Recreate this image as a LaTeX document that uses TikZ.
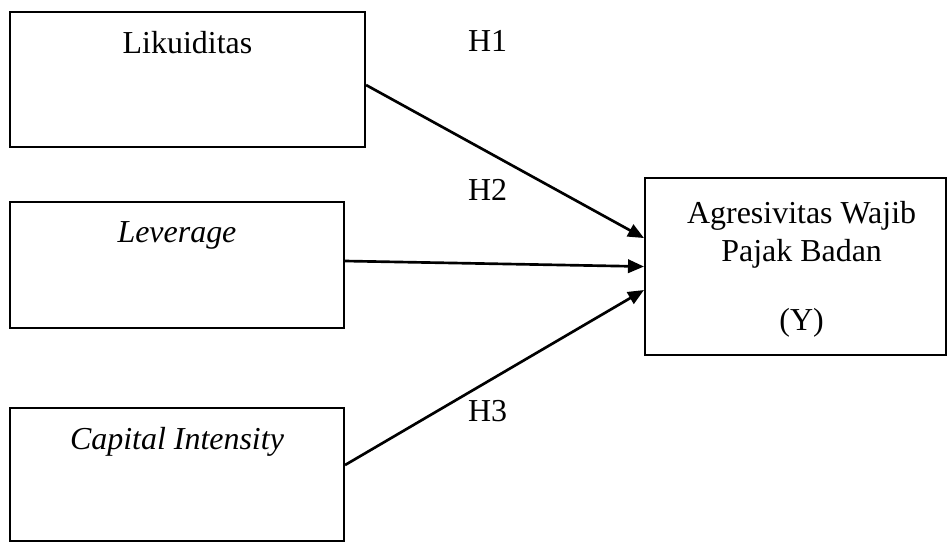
\documentclass[tikz,border=0pt]{standalone}
\usepackage{fontspec}
\setmainfont{Liberation Serif}
\usetikzlibrary{arrows.meta}

\begin{document}
\begin{tikzpicture}[
	font=\fontsize{12}{14.4}\selectfont,
	line width=0.8pt,
	var/.style={draw, rectangle, inner sep=0pt},
	lbl/.style={anchor=north, inner sep=0pt},
	hyp/.style={anchor=base west, inner sep=0pt},
	arr/.style={line width=1pt, -{Triangle[length=6pt,width=5pt]}}]
\useasboundingbox (0,0) rectangle (12.5,-7.168);
% variabel independen
\node[var, minimum width=4.686cm, minimum height=1.782cm,
	label={[lbl, yshift=-0.253cm]north:Likuiditas}] (x1) at (2.475,-1.049) {};
\node[var, minimum width=4.409cm, minimum height=1.663cm,
	label={[lbl, yshift=-0.253cm]north:\textit{Leverage}}] (x2) at (2.336,-3.498) {};
\node[var, minimum width=4.409cm, minimum height=1.756cm,
	label={[lbl, yshift=-0.253cm]north:\textit{Capital Intensity}}] (x3) at (2.336,-6.263) {};
% variabel dependen
\node[var, minimum width=3.973cm, minimum height=2.336cm,
	label={[lbl, align=center, yshift=-0.306cm, xshift=0.08cm]north:Agresivitas Wajib\\Pajak Badan\\[11.5pt](Y)}] (y) at (10.501,-3.518) {};
% hipotesis
\node[hyp] (h1) at (6.164,-0.686) {H1};
\node[hyp] (h2) at (6.164,-2.640) {H2};
\node[hyp] (h3) at (6.164,-5.557) {H3};
\draw[arr] ([yshift=-0.073cm]x1.east) -- ([yshift=0.376cm]y.west);
\draw[arr] ([yshift=0.053cm]x2.east) -- (y.west);
\draw[arr] ([yshift=0.125cm]x3.east) -- ([yshift=-0.31cm]y.west);
\end{tikzpicture}
\end{document}
